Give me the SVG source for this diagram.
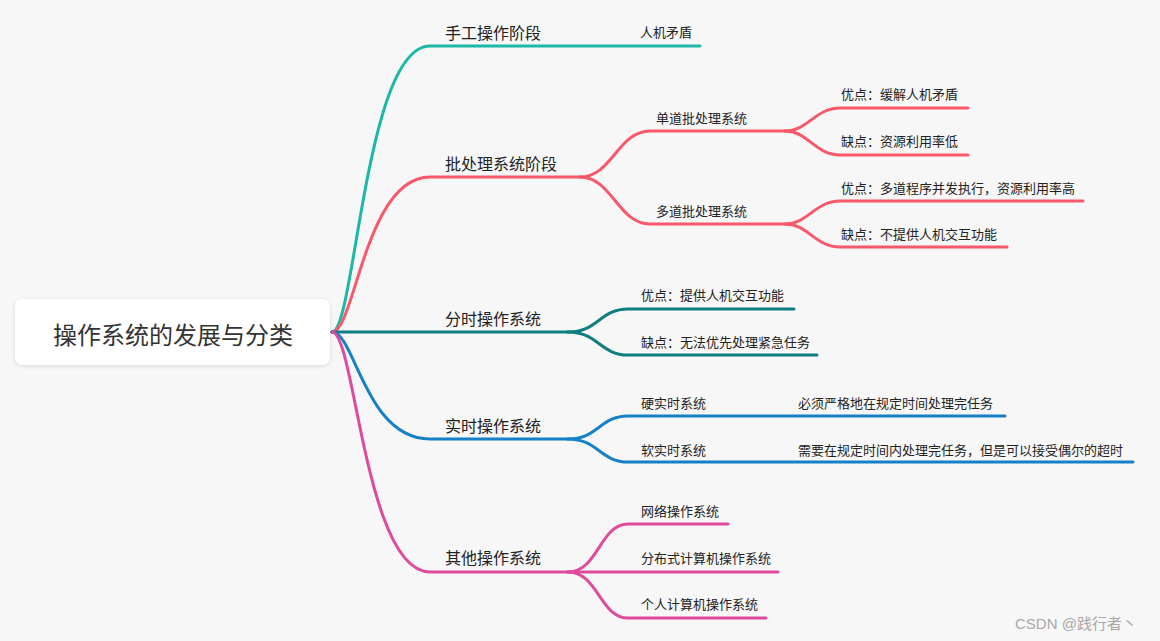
<svg xmlns="http://www.w3.org/2000/svg" width="1160" height="641" viewBox="0 0 1160 641">
<defs>
<filter id="sh" x="-10%" y="-30%" width="120%" height="160%">
<feDropShadow dx="0" dy="1" stdDeviation="2" flood-color="#000" flood-opacity="0.12"/>
</filter>
<style>
text{font-family:"Noto Sans CJK SC","Microsoft YaHei",sans-serif;fill:#222}
.l1{font-size:16px}
.l2{font-size:13px}
.root{font-size:24px;fill:#333}
.c path{fill:none;stroke-width:3;stroke-linecap:round}
.teal{stroke:#1bb8a8}
.red{stroke:#f9586b}
.dt{stroke:#0f7e80}
.blue{stroke:#1580c8}
.mag{stroke:#e04a9c}
.wm{font-family:"Liberation Sans","Noto Sans CJK SC",sans-serif;font-size:15px;fill:#a8a8a8}
</style>
</defs>
<rect width="1160" height="641" fill="#f7f7f7"/>
<g id="connectors" class="c">
<path class="teal" d="M332,332 C355,332 365,46 430,46 L700,46"/>
<path class="red" d="M332,332 C355,332 365,177 430,177 L580,177"/>
<path class="red" d="M580,177 C612,177 618,131 650,131 L785,131"/>
<path class="red" d="M580,177 C612,177 618,224 650,224 L785,224"/>
<path class="red" d="M785,131 C808,131 815,108 840,108 L968,108"/>
<path class="red" d="M785,131 C808,131 815,155 840,155 L968,155"/>
<path class="red" d="M785,224 C808,224 815,201 840,201 L1083,201"/>
<path class="red" d="M785,224 C808,224 815,247 840,247 L1007,247"/>
<path class="dt" d="M332,332 L568,332"/>
<path class="dt" d="M568,332 C598,332 600,309 628,309 L794,309"/>
<path class="dt" d="M568,332 C598,332 600,355 628,355 L817,355"/>
<path class="blue" d="M332,332 C355,332 365,439 430,439 L568,439"/>
<path class="blue" d="M568,439 C598,439 600,416 628,416 L1005,416"/>
<path class="blue" d="M568,439 C598,439 600,462 628,462 L1133,462"/>
<path class="mag" d="M332,332 C355,332 365,572 430,572 L568,572"/>
<path class="mag" d="M568,572 C598,572 600,524 628,524 L728,524"/>
<path class="mag" d="M568,572 L778,572"/>
<path class="mag" d="M568,572 C598,572 600,618 628,618 L766,618"/>
</g>
<g id="root">
<rect x="15" y="299" width="315" height="66" rx="8" fill="#fff" filter="url(#sh)"/>
<text class="root" x="173" y="344" text-anchor="middle">操作系统的发展与分类</text>
</g>
<g id="n1"><text class="l1" x="445" y="39">手工操作阶段</text></g>
<g id="n1a"><text class="l2" x="640" y="37">人机矛盾</text></g>
<g id="n2"><text class="l1" x="445" y="170">批处理系统阶段</text></g>
<g id="n2a"><text class="l2" x="656" y="123">单道批处理系统</text></g>
<g id="n2a1"><text class="l2" x="841" y="99">优点：缓解人机矛盾</text></g>
<g id="n2a2"><text class="l2" x="841" y="146">缺点：资源利用率低</text></g>
<g id="n2b"><text class="l2" x="656" y="216">多道批处理系统</text></g>
<g id="n2b1"><text class="l2" x="841" y="193">优点：多道程序并发执行，资源利用率高</text></g>
<g id="n2b2"><text class="l2" x="841" y="239">缺点：不提供人机交互功能</text></g>
<g id="n3"><text class="l1" x="445" y="325">分时操作系统</text></g>
<g id="n3a"><text class="l2" x="641" y="300">优点：提供人机交互功能</text></g>
<g id="n3b"><text class="l2" x="641" y="347">缺点：无法优先处理紧急任务</text></g>
<g id="n4"><text class="l1" x="445" y="432">实时操作系统</text></g>
<g id="n4a"><text class="l2" x="641" y="408">硬实时系统</text></g>
<g id="n4a1"><text class="l2" x="798" y="408">必须严格地在规定时间处理完任务</text></g>
<g id="n4b"><text class="l2" x="641" y="455">软实时系统</text></g>
<g id="n4b1"><text class="l2" x="798" y="455">需要在规定时间内处理完任务，但是可以接受偶尔的超时</text></g>
<g id="n5"><text class="l1" x="445" y="564">其他操作系统</text></g>
<g id="n5a"><text class="l2" x="641" y="516">网络操作系统</text></g>
<g id="n5b"><text class="l2" x="641" y="563">分布式计算机操作系统</text></g>
<g id="n5c"><text class="l2" x="641" y="609">个人计算机操作系统</text></g>
<text class="wm" x="1015" y="629">CSDN @践行者丶</text>
</svg>
